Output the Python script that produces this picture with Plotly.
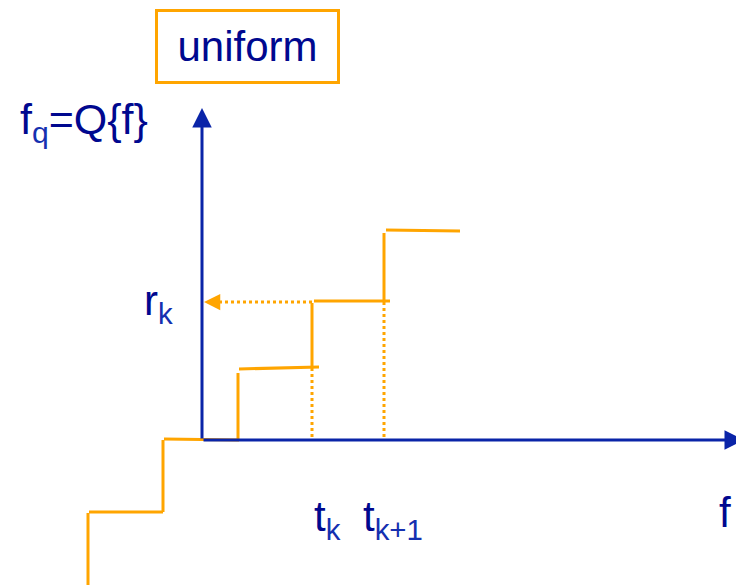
import plotly.graph_objects as go

# Diagram coordinates: origin at the axes' intersection, 1 unit ~ 1 px
# Quantizer staircase segments (None separates segments)
step_x = [-114, -114, None, -113, -39, None, -39, -39, None, -38, 37, None,
          36, 36, None, 37, 117, None, 110, 110, None, 112, 188, None,
          182, 182, None, 184, 258]
step_y = [-145, -73, None, -72, -72, None, -72, 0, None, 1, 0, None,
          0, 67, None, 71, 73, None, 70, 137, None, 139, 139, None,
          138, 207, None, 210, 209]

# decision levels t_k, t_k+1 and reconstruction level r_k
t_levels = [110, 182]
t_tops = [70, 139]
r_level = 138

axis_x_end = 542
axis_y_end = 332

AX_COL = "#0A24A8"
TXT_COL = "#00088F"
SUB_COL = "#1530B0"
OR_COL = "#FFA500"
FONT = "Liberation Sans, Arial, sans-serif"


def sub(s):
    return f"<sub><span style='color:{SUB_COL}'>{s}</span></sub>"


fig = go.Figure()

fig.add_trace(go.Scatter(x=step_x, y=step_y, mode="lines",
                         line=dict(color=OR_COL, width=3), hoverinfo="skip"))

# dotted verticals from the axis to the steps
dx, dy = [], []
for t, top in zip(t_levels, t_tops):
    dx += [t, t, None]
    dy += [3, top, None]
fig.add_trace(go.Scatter(x=dx, y=dy, mode="lines",
                         line=dict(color=OR_COL, width=3, dash="dot"), hoverinfo="skip"))
# dotted horizontal back to the f_q axis
fig.add_trace(go.Scatter(x=[t_levels[0], 12], y=[r_level, r_level], mode="lines",
                         line=dict(color=OR_COL, width=3, dash="dot"), hoverinfo="skip"))

annotations = []
# axes with arrows
annotations.append(dict(x=0, y=axis_y_end, ax=0, ay=0, xref="x", yref="y", axref="x", ayref="y",
                        showarrow=True, arrowhead=2, arrowsize=1.3, arrowwidth=3,
                        arrowcolor=AX_COL, text=""))
annotations.append(dict(x=axis_x_end, y=0, ax=0, ay=0, xref="x", yref="y", axref="x", ayref="y",
                        showarrow=True, arrowhead=2, arrowsize=1.3, arrowwidth=3,
                        arrowcolor=AX_COL, text=""))
# arrowhead of the dotted line
annotations.append(dict(x=2, y=r_level, ax=16, ay=r_level, xref="x", yref="y", axref="x", ayref="y",
                        showarrow=True, arrowhead=2, arrowsize=1.3, arrowwidth=2.5,
                        arrowcolor=OR_COL, text=""))

# labels
annotations.append(dict(x=45, y=394, xref="x", yref="y", text="uniform", showarrow=False,
                        font=dict(family=FONT, size=42, color=TXT_COL),
                        bordercolor=OR_COL, borderwidth=3, width=177, height=67,
                        bgcolor="white", xanchor="center", yanchor="middle"))
annotations.append(dict(x=-184, y=318, xref="x", yref="y", text="f" + sub("q") + "=Q{f}",
                        showarrow=False, font=dict(family=FONT, size=43, color=TXT_COL),
                        xanchor="left", yanchor="middle"))
annotations.append(dict(x=-60, y=137, xref="x", yref="y", text="r" + sub("k"),
                        showarrow=False, font=dict(family=FONT, size=42, color=TXT_COL),
                        xanchor="left", yanchor="middle"))
annotations.append(dict(x=110, y=-79, xref="x", yref="y", text="t" + sub("k"),
                        showarrow=False, font=dict(family=FONT, size=42, color=TXT_COL),
                        xanchor="left", yanchor="middle"))
annotations.append(dict(x=159, y=-79, xref="x", yref="y", text="t" + sub("k+1"),
                        showarrow=False, font=dict(family=FONT, size=42, color=TXT_COL),
                        xanchor="left", yanchor="middle"))
annotations.append(dict(x=515, y=-72, xref="x", yref="y", text="f",
                        showarrow=False, font=dict(family=FONT, size=42, color=TXT_COL),
                        xanchor="left", yanchor="middle"))

# the page body adds an 8 px offset; ranges compensate so the origin lands at (202, 440)
fig.update_layout(
    width=744, height=585,
    margin=dict(l=0, r=0, t=0, b=0),
    paper_bgcolor="white", plot_bgcolor="white",
    showlegend=False,
    xaxis=dict(range=[-194, 550], visible=False, fixedrange=True),
    yaxis=dict(range=[-153, 432], visible=False, fixedrange=True),
    annotations=annotations,
)

fig.write_html("out.html")
